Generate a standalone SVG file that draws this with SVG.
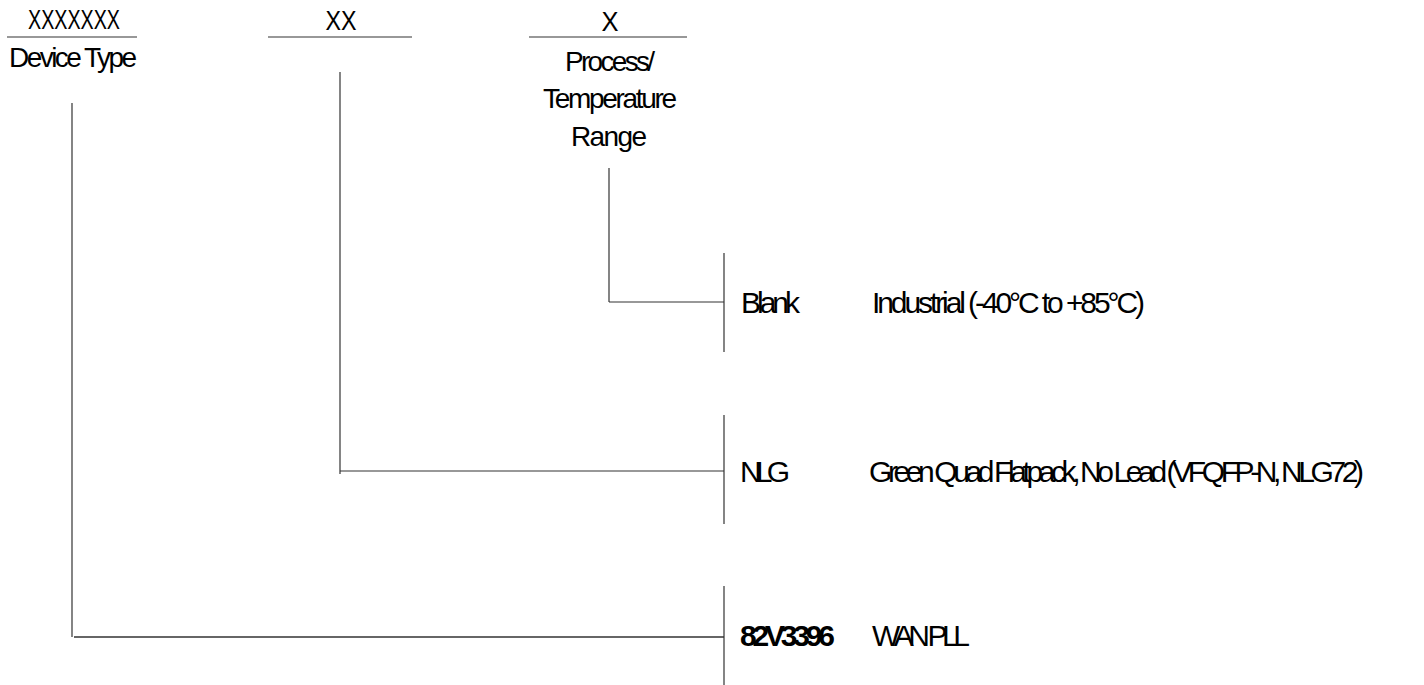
<svg xmlns="http://www.w3.org/2000/svg" width="1424" height="685" viewBox="0 0 1424 685">
<style>
text{font-family:"Liberation Sans",Arial,sans-serif;font-size:28px;fill:#000}
.r{font-size:30px}
.m{text-anchor:middle}
.b{font-weight:bold}
line{stroke:#333;stroke-width:1.2}
</style>
<rect width="1424" height="685" fill="#fff"/>
<g id="hdr-device">
<text class="m" x="74" y="29" textLength="92" lengthAdjust="spacingAndGlyphs">XXXXXXX</text>
<line x1="7" y1="37" x2="137" y2="37"/>
<text class="m" x="73" y="67" textLength="128">Device Type</text>
</g>
<g id="hdr-package">
<text class="m" x="341" y="30" textLength="31" lengthAdjust="spacingAndGlyphs">XX</text>
<line x1="268" y1="37" x2="412" y2="37"/>
</g>
<g id="hdr-process">
<text class="m" x="610" y="31" textLength="17" lengthAdjust="spacingAndGlyphs">X</text>
<line x1="529" y1="37" x2="687" y2="37"/>
<text class="m" x="610" y="71" textLength="90">Process/</text>
<text class="m" x="610" y="108" textLength="134">Temperature</text>
<text class="m" x="609" y="146" textLength="76">Range</text>
</g>
<g id="connectors">
<line x1="609" y1="168" x2="609" y2="302"/>
<line x1="609" y1="302" x2="724" y2="302"/>
<line x1="724" y1="253" x2="724" y2="352"/>
<line x1="340" y1="72" x2="340" y2="474"/>
<line x1="340" y1="471" x2="724" y2="471"/>
<line x1="724" y1="415" x2="724" y2="524"/>
<line x1="72" y1="103" x2="72" y2="637"/>
<line x1="74" y1="637" x2="724" y2="637" style="stroke-width:1.6"/>
<line x1="724" y1="586" x2="724" y2="685"/>
</g>
<g id="opt-blank">
<text class="r" x="741" y="313" textLength="59">Blank</text>
<text class="r" x="872" y="313" textLength="273">Industrial (-40°C to +85°C)</text>
</g>
<g id="opt-nlg">
<text class="r" x="740" y="482" textLength="50">NLG</text>
<text class="r" x="869" y="482" textLength="495">Green Quad Flatpack, No Lead (VFQFP-N, NLG72)</text>
</g>
<g id="opt-device">
<text class="r b" x="740" y="646" textLength="95">82V3396</text>
<text class="r" x="872" y="646" textLength="98">WAN PLL</text>
</g>
</svg>
